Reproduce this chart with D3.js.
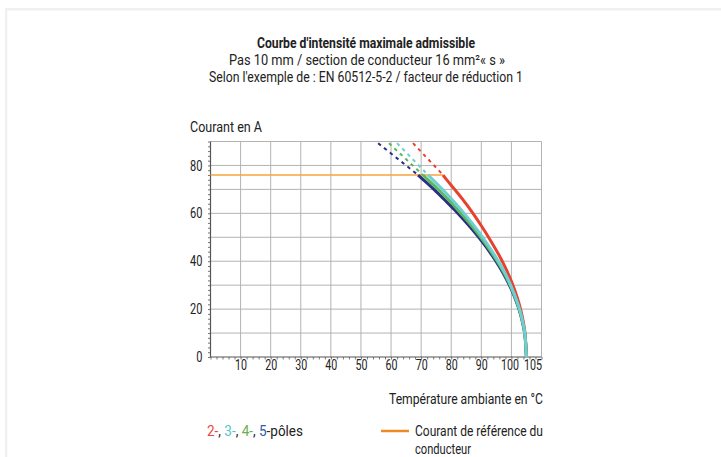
<!DOCTYPE html>
<html><head><meta charset="utf-8">
<script src="https://cdn.jsdelivr.net/npm/d3@7"></script>
<style>
html,body{margin:0;padding:0;background:#fff;}
svg text{font-family:Roboto,"Liberation Sans",sans-serif;fill:#222;}
</style></head>
<body>
<svg id="chart" width="721" height="457"></svg>
<script>
// ---- data ----
const titleLines = ["Courbe d'intensité maximale admissible",
  "Pas 10 mm / section de conducteur  16 mm²« s »",
  "Selon l'exemple de : EN 60512-5-2 / facteur de réduction 1"];
const yLabel = "Courant en A";
const xLabel = "Température ambiante en °C";
const xTicks = [10,20,30,40,50,60,70,80,90,100,105];
const yTicks = [0,20,40,60,80];
const refCurrent = 76;
const refEndTemp = 77.3;

const temps2 = [77.3,78,81,84,87,90,93,96,98,100,102,103,104,104.5,105];
const amps2  = [76,74.8,70.2,65.5,60.4,54.8,48.8,42.3,37.3,31.6,24.6,20.2,14.4,10.2,0];
const temps3 = [72.3,75,78,81,84,87,90,93,96,98,100,102,103,104,104.5,105];
const amps3  = [76,72.6,68.8,64.7,60.4,55.8,50.8,45.3,39.3,34.7,29.3,22.8,18.7,13.3,9.4,0];
const temps4 = [70.6,72,75,78,81,84,87,90,93,96,98,100,102,103,104,104.5,105];
const amps4  = [76,74.3,70.8,67.0,63.1,58.9,54.5,49.7,44.4,38.5,34.0,28.8,22.3,18.2,13.0,9.2,0];
const temps5 = [69,72,75,78,81,84,87,90,93,96,98,100,102,103,104,104.5,105];
const amps5  = [76,72.6,69.1,65.4,61.6,57.5,53.2,48.6,43.5,37.7,33.3,28.2,21.9,17.9,12.7,9.0,0];
// dashed extensions above the reference current
const dashTemps2 = [67.3,77.3], dashAmps2 = [89.3,76];
const dashTemps3 = [62.0,72.3], dashAmps3 = [89.3,76];
const dashTemps4 = [59.3,70.6], dashAmps4 = [89.3,76];
const dashTemps5 = [55.7,69.0], dashAmps5 = [89.3,76];

const colors = {p2:"#e8412e", p3:"#6dcfd2", p4:"#5cb85a", p5:"#2b2f85", ref:"#f5a53a"};
const legendColors = {p2:"#e8463a", p3:"#55c3cc", p4:"#6ab04c", p5:"#2f5ba8", ref:"#f08a24"};

// ---- drawing ----
const svg = d3.select("#chart");
svg.append("rect").attr("x",5).attr("y",8).attr("width",716).attr("height",2.5).attr("fill","#f0f0f0");
svg.append("rect").attr("x",5).attr("y",8).attr("width",2.3).attr("height",449).attr("fill","#f0f0f0");

const x = d3.scaleLinear().domain([0,110]).range([210.5,541.5]);
const y = d3.scaleLinear().domain([0,90]).range([357,141.5]);

// grid
const g = svg.append("g");
g.selectAll(".vg").data(d3.range(10,111,10)).join("line")
  .attr("x1",d=>x(d)).attr("x2",d=>x(d)).attr("y1",y(0)).attr("y2",y(90))
  .attr("stroke","#b3b3b3").attr("stroke-width",1);
g.selectAll(".hg").data(d3.range(10,91,10)).join("line")
  .attr("x1",x(0)).attr("x2",x(110)).attr("y1",d=>y(d)).attr("y2",d=>y(d))
  .attr("stroke","#b3b3b3").attr("stroke-width",1);

// minor ticks
svg.append("g").attr("transform",`translate(0,${y(0)})`)
  .call(d3.axisBottom(x).tickValues(d3.range(0,111,2)).tickSize(2.5).tickFormat(""))
  .call(s=>{s.select(".domain").remove(); s.selectAll("line").attr("stroke","#777");});
svg.append("g").attr("transform",`translate(${x(0)},0)`)
  .call(d3.axisLeft(y).tickValues(d3.range(0,91,2)).tickSize(2.5).tickFormat(""))
  .call(s=>{s.select(".domain").remove(); s.selectAll("line").attr("stroke","#777");});

svg.append("line").attr("x1",x(0)).attr("x2",x(110)).attr("y1",y(0)).attr("y2",y(0)).attr("stroke","#555").attr("stroke-width",1.2);
svg.append("line").attr("x1",x(0)).attr("x2",x(0)).attr("y1",y(0)).attr("y2",y(90)).attr("stroke","#555").attr("stroke-width",1.2);

function fitText(sel, w){ sel.attr("textLength",w).attr("lengthAdjust","spacingAndGlyphs"); return sel; }

// tick labels
const xa = svg.append("g").attr("transform",`translate(0,${y(0)})`)
  .call(d3.axisBottom(x).tickValues(xTicks).tickSize(0).tickPadding(3));
xa.select(".domain").remove();
xa.selectAll("text").attr("font-size",14.5).attr("font-family","Roboto").attr("fill","#222")
  .attr("dx",d=>d===105?6:(d===100?-2:0))
  .each(function(d){ fitText(d3.select(this), String(d).length*6); });
const ya = svg.append("g").attr("transform",`translate(${x(0)},0)`)
  .call(d3.axisLeft(y).tickValues(yTicks).tickSize(0).tickPadding(8));
ya.select(".domain").remove();
ya.selectAll("text").attr("font-size",14.5).attr("font-family","Roboto").attr("fill","#222")
  .each(function(d){ fitText(d3.select(this), String(d).length*6.2); });

// reference line
svg.append("line").attr("x1",x(0)).attr("x2",x(refEndTemp)).attr("y1",y(refCurrent)).attr("y2",y(refCurrent))
  .attr("stroke",colors.ref).attr("stroke-width",1.5);

const lineStraight = d3.line().x(d=>x(d[0])).y(d=>y(d[1]));
const lineCurve = d3.line().x(d=>x(d[0])).y(d=>y(d[1])).curve(d3.curveCatmullRom);
const series = [
  {t:temps2,a:amps2,dt:dashTemps2,da:dashAmps2,c:colors.p2},
  {t:temps5,a:amps5,dt:dashTemps5,da:dashAmps5,c:colors.p5},
  {t:temps4,a:amps4,dt:dashTemps4,da:dashAmps4,c:colors.p4},
  {t:temps3,a:amps3,dt:dashTemps3,da:dashAmps3,c:colors.p3},
];
series.forEach(s=>{
  svg.append("path").attr("d",lineStraight(s.dt.map((t,i)=>[t,s.da[i]])))
    .attr("fill","none").attr("stroke",s.c).attr("stroke-width",2).attr("stroke-dasharray","3.5,4");
});
series.forEach(s=>{
  svg.append("path").attr("d",lineCurve(s.t.map((t,i)=>[t,s.a[i]])))
    .attr("fill","none").attr("stroke",s.c).attr("stroke-width",3);
});

// texts
fitText(svg.append("text").attr("x",366).attr("y",48).attr("text-anchor","middle").attr("font-size",14.5).attr("font-weight","bold").text(titleLines[0]),218);
fitText(svg.append("text").attr("x",367).attr("y",65).attr("text-anchor","middle").attr("font-size",14.5).text(titleLines[1]),276);
fitText(svg.append("text").attr("x",366).attr("y",82).attr("text-anchor","middle").attr("font-size",14.5).text(titleLines[2]),314);
fitText(svg.append("text").attr("x",190).attr("y",132).attr("font-size",14.5).text(yLabel),72);
fitText(svg.append("text").attr("x",389).attr("y",404).attr("font-size",14.5).text(xLabel),154);

// legend
const lt = svg.append("text").attr("x",207).attr("y",436).attr("font-size",14.5);
[["2-",legendColors.p2],[", ","#222"],["3-",legendColors.p3],[", ","#222"],["4-",legendColors.p4],[", ","#222"],["5",legendColors.p5],["-pôles","#222"]]
  .forEach(([t,c])=>lt.append("tspan").attr("fill",c).text(t));
fitText(lt,96);
svg.append("line").attr("x1",381).attr("x2",409).attr("y1",431).attr("y2",431).attr("stroke",legendColors.ref).attr("stroke-width",2.5);
fitText(svg.append("text").attr("x",415).attr("y",436).attr("font-size",14.5).text("Courant de référence du"),128);
fitText(svg.append("text").attr("x",415).attr("y",454).attr("font-size",14.5).text("conducteur"),56);
</script>
</body></html>
